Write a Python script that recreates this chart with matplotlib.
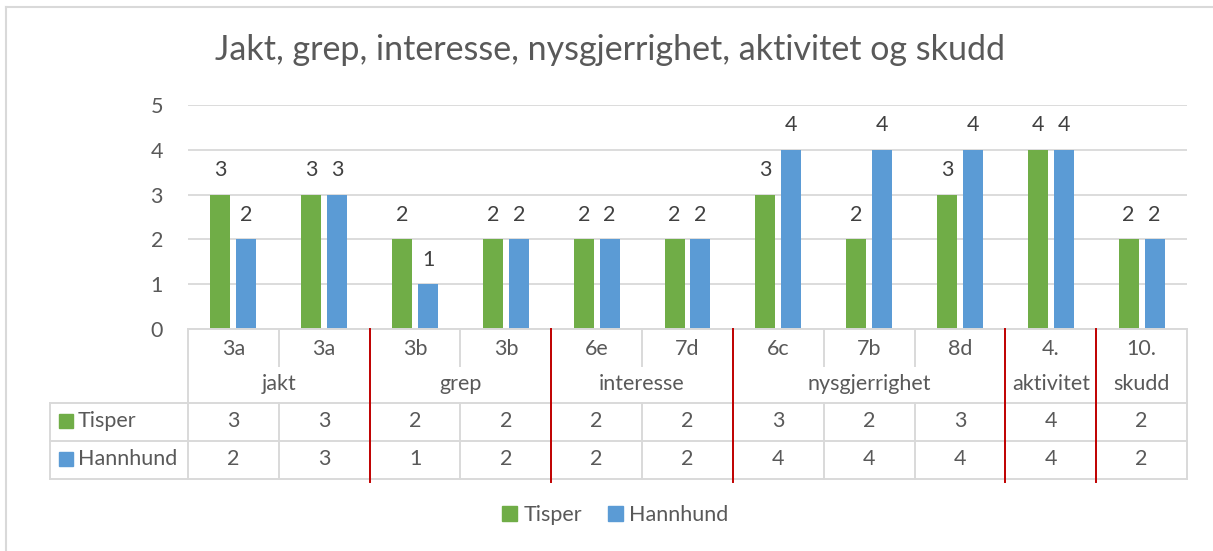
import numpy as np
import matplotlib
matplotlib.use("Agg")
import matplotlib.pyplot as plt
from matplotlib.transforms import blended_transform_factory
from matplotlib.patches import Patch

plt.rcParams["font.family"] = ["Lato", "DejaVu Sans"]

# data
items = ["3a", "3a", "3b", "3b", "6e", "7d", "6c", "7b", "8d", "4.", "10."]
groups = ["jakt", "grep", "interesse", "nysgjerrighet", "aktivitet", "skudd"]
group_sizes = [2, 2, 2, 3, 1, 1]
tisper = [3, 3, 2, 2, 2, 2, 3, 2, 3, 4, 2]
hannhund = [2, 3, 1, 2, 2, 2, 4, 4, 4, 4, 2]

GREEN = "#70AD47"
BLUE = "#5B9BD5"
TEXT = "#595959"
GRID = "#D9D9D9"
RED = "#C00000"
FS = 15.5

W, H = 1213, 551
fig = plt.figure(figsize=(W / 100, H / 100), dpi=100)

# plot area in pixels
px_l, px_r, px_top, px_bot = 188, 1187, 105, 329
ax = fig.add_axes([px_l / W, 1 - px_bot / H, (px_r - px_l) / W, (px_bot - px_top) / H])

def fy(py):
    return 1 - py / H

n = len(items)
x = np.arange(n)
bw = 0.22
off = 0.143
ax.bar(x - off, tisper, bw, color=GREEN, zorder=3)
ax.bar(x + off, hannhund, bw, color=BLUE, zorder=3)
for xi, a, b in zip(x, tisper, hannhund):
    ax.text(xi - off, a + 0.55, str(a), ha="center", va="center", fontsize=FS, color="#404040")
    ax.text(xi + off, b + 0.55, str(b), ha="center", va="center", fontsize=FS, color="#404040")

ax.set_xlim(-0.5, n - 0.5)
ax.set_ylim(0, 5)
ax.set_yticks(range(6))
ax.tick_params(axis="y", length=0, pad=18, labelsize=FS, labelcolor=TEXT)
ax.set_xticks([])
ax.grid(axis="y", color=GRID, linewidth=1.3, zorder=0)
for s in ax.spines.values():
    s.set_visible(False)

# table below the plot
tr = blended_transform_factory(ax.transData, fig.transFigure)
lw = 1.4
xl = -0.5 + (50 - px_l) / ((px_r - px_l) / n)

def hline(x0, x1, py, **kw):
    fig.add_artist(plt.Line2D([x0, x1], [fy(py), fy(py)], transform=tr, color=GRID, lw=lw, **kw))

def vline(xx, py0, py1, color=GRID, **kw):
    fig.add_artist(plt.Line2D([xx, xx], [fy(py0), fy(py1)], transform=tr, color=color, lw=lw, **kw))

hline(-0.5, n - 0.5, 329)
hline(xl, n - 0.5, 403)
hline(xl, n - 0.5, 441)
hline(xl, n - 0.5, 479)
vline(xl, 403, 479)
vline(-0.5, 329, 479)
vline(n - 0.5, 329, 479)
for i in range(1, n):
    vline(i - 0.5, 329, 366)
    vline(i - 0.5, 403, 479)

for xi, lab, a, b in zip(x, items, tisper, hannhund):
    fig.text(xi, fy(349), lab, transform=tr, ha="center", va="center", fontsize=FS, color=TEXT)
    fig.text(xi, fy(421), str(a), transform=tr, ha="center", va="center", fontsize=FS, color=TEXT)
    fig.text(xi, fy(459), str(b), transform=tr, ha="center", va="center", fontsize=FS, color=TEXT)

start = 0
for g, sz in zip(groups, group_sizes):
    c = start + (sz - 1) / 2
    fig.text(c, fy(384), g, transform=tr, ha="center", va="center", fontsize=FS, color=TEXT)
    start += sz
    if start < n:
        vline(start - 0.5, 329, 482, color=RED, zorder=5)

# row headers
for py, name, col in [(421, "Tisper", GREEN), (459, "Hannhund", BLUE)]:
    fig.add_artist(plt.Rectangle((59 / W, fy(py) - 7 / H), 14 / W, 14 / H,
                                 transform=fig.transFigure, color=col))
    fig.text(78 / W, fy(py), name, ha="left", va="center", fontsize=FS, color=TEXT)

# title
fig.text(610 / W, fy(50), "Jakt, grep, interesse, nysgjerrighet, aktivitet og skudd",
         ha="center", va="center", fontsize=24.5, color=TEXT)

# legend
handles = [Patch(color=GREEN, label="Tisper"), Patch(color=BLUE, label="Hannhund")]
leg = fig.legend(handles=handles, loc="center", bbox_to_anchor=(615 / W, fy(515)), ncol=2,
                 frameon=False, fontsize=FS, handlelength=0.7, handleheight=0.7,
                 handletextpad=0.3, columnspacing=1.2)
for t in leg.get_texts():
    t.set_color(TEXT)

# outer frame (left and top edges visible)
fig.add_artist(plt.Line2D([6 / W, 6 / W], [0, fy(7)], color=GRID, lw=1.5))
fig.add_artist(plt.Line2D([6 / W, 1], [fy(7), fy(7)], color=GRID, lw=1.5))

fig.savefig("out.png", dpi=100)
